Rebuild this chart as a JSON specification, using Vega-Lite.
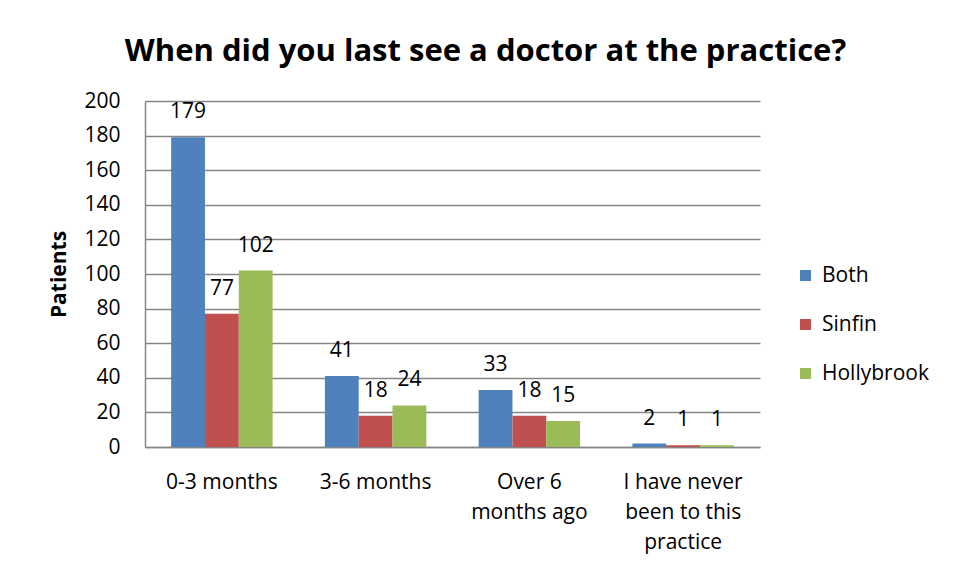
{
  "$schema": "https://vega.github.io/schema/vega-lite/v6.json",
  "autosize": {"type": "none"},
  "width": 615,
  "height": 346,
  "padding": {"left": 145, "top": 101, "right": 204, "bottom": 129},
  "background": "white",
  "config": {"view": {"stroke": null}},
  "title": {
    "text": "When did you last see a doctor at the practice?",
    "font": "Open Sans",
    "fontSize": 31,
    "fontWeight": "bold",
    "color": "#000000",
    "anchor": "middle",
    "dx": 33,
    "offset": 22
  },
  "data": {
    "values": [
      {"period": "0-3 months", "practice": "Both", "patients": 179},
      {"period": "0-3 months", "practice": "Sinfin", "patients": 77},
      {"period": "0-3 months", "practice": "Hollybrook", "patients": 102},
      {"period": "3-6 months", "practice": "Both", "patients": 41},
      {"period": "3-6 months", "practice": "Sinfin", "patients": 18},
      {"period": "3-6 months", "practice": "Hollybrook", "patients": 24},
      {"period": "Over 6|months ago", "practice": "Both", "patients": 33},
      {"period": "Over 6|months ago", "practice": "Sinfin", "patients": 18},
      {"period": "Over 6|months ago", "practice": "Hollybrook", "patients": 15},
      {"period": "I have never|been to this|practice", "practice": "Both", "patients": 2},
      {"period": "I have never|been to this|practice", "practice": "Sinfin", "patients": 1},
      {"period": "I have never|been to this|practice", "practice": "Hollybrook", "patients": 1}
    ]
  },
  "encoding": {
    "x": {
      "field": "period",
      "type": "nominal",
      "sort": null,
      "scale": {"paddingInner": 0.34, "paddingOuter": 0.17},
      "axis": {
        "title": null,
        "labelAngle": 0,
        "labelExpr": "split(datum.value, '|')",
        "labelFont": "Open Sans",
        "labelFontSize": 21,
        "labelColor": "#000000",
        "labelLineHeight": 30,
        "labelPadding": 24,
        "labelBaseline": "top",
        "ticks": false,
        "domainColor": "#868686",
        "domainWidth": 1.5,
        "grid": false
      }
    },
    "xOffset": {
      "field": "practice",
      "type": "nominal",
      "sort": ["Both", "Sinfin", "Hollybrook"]
    },
    "y": {
      "field": "patients",
      "type": "quantitative",
      "scale": {"domain": [0, 200], "nice": false},
      "axis": {
        "title": "Patients",
        "titleFont": "Open Sans",
        "titleFontSize": 21,
        "titleFontWeight": "bold",
        "titleColor": "#000000",
        "titlePadding": 14,
        "values": [0, 20, 40, 60, 80, 100, 120, 140, 160, 180, 200],
        "labelFont": "Open Sans",
        "labelFontSize": 21,
        "labelColor": "#000000",
        "labelPadding": 25,
        "ticks": false,
        "domainColor": "#868686",
        "domainWidth": 1.5,
        "gridColor": "#868686",
        "gridWidth": 1.3
      }
    }
  },
  "layer": [
    {
      "mark": {"type": "bar"},
      "encoding": {
        "color": {
          "field": "practice",
          "type": "nominal",
          "sort": ["Both", "Sinfin", "Hollybrook"],
          "scale": {
            "domain": ["Both", "Sinfin", "Hollybrook"],
            "range": ["#4F81BD", "#C0504D", "#9BBB59"]
          },
          "legend": {
            "title": null,
            "orient": "none",
            "legendX": 650,
            "legendY": 164,
            "symbolType": "square",
            "symbolSize": 121,
            "symbolStrokeWidth": 0,
            "labelFont": "Open Sans",
            "labelFontSize": 21,
            "labelColor": "#000000",
            "rowPadding": 27,
            "labelOffset": 6
          }
        }
      }
    },
    {
      "mark": {"type": "text", "font": "Open Sans", "fontSize": 21, "color": "#000000", "baseline": "middle", "dy": -25},
      "encoding": {
        "text": {"field": "patients", "type": "quantitative"}
      }
    }
  ]
}
